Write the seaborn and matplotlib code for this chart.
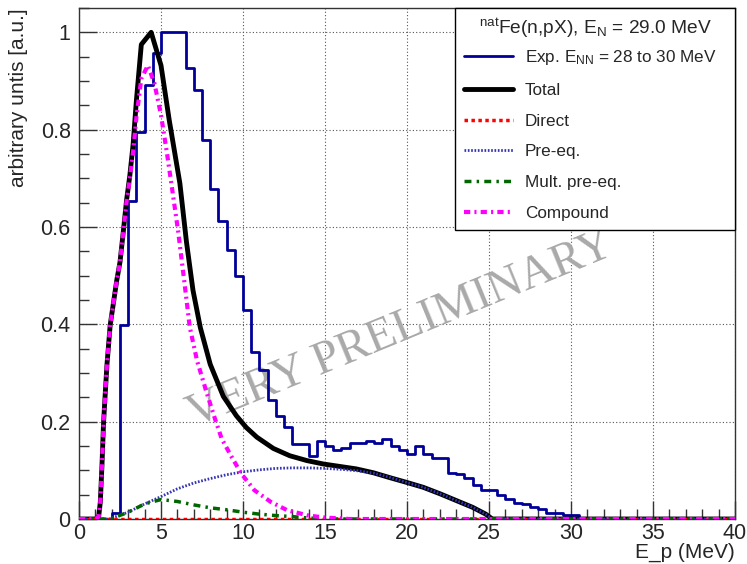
"""
natFe(n,pX) proton spectrum at E_N = 29 MeV: measured histogram vs. model components.
"""
import numpy as np
import seaborn as sns
import matplotlib.pyplot as plt
from matplotlib.ticker import MultipleLocator, FuncFormatter

# --- measured spectrum, 0.5 MeV bins, first bin starts at 2.0 MeV ---
EXP_FIRST_EDGE = 2.0
EXP_BIN_WIDTH = 0.5
exp_counts = [
    0.012, 0.399, 0.653, 0.795, 0.892, 0.958, 1.0, 1.0, 1.0, 0.927,
    0.881, 0.778, 0.678, 0.613, 0.552, 0.500, 0.429, 0.344, 0.307, 0.244,
    0.212, 0.189, 0.155, 0.155, 0.130, 0.160, 0.149, 0.142, 0.145, 0.157,
    0.157, 0.160, 0.156, 0.164, 0.149, 0.141, 0.134, 0.150, 0.134, 0.125,
    0.125, 0.094, 0.092, 0.084, 0.070, 0.060, 0.060, 0.049, 0.041, 0.033,
    0.031, 0.025, 0.020, 0.013, 0.012, 0.008, 0.008,
]

# --- model curves (energy in MeV, arbitrary units) ---
total_e = [0, 1.0, 1.2, 1.3, 1.4, 1.5, 1.7, 1.9, 2.3, 2.5, 2.7, 2.9, 3.1, 3.3, 3.5,
           3.8, 4.4, 5.0, 5.5, 6.15, 6.55, 6.95, 7.4, 8.0, 8.8, 9.6, 10.2, 10.85,
           11.85, 12.85, 13.9, 14.9, 15.9, 16.9, 17.95, 18.95, 20.0, 21.0, 22.0,
           23.0, 24.0, 24.8, 25.2, 40]
total_v = [0, 0, 0.005, 0.035, 0.11, 0.2, 0.315, 0.398, 0.49, 0.528, 0.59, 0.655,
           0.706, 0.77, 0.86, 0.975, 1.0, 0.932, 0.82, 0.69, 0.57, 0.47, 0.393,
           0.318, 0.252, 0.212, 0.188, 0.168, 0.145, 0.13, 0.12, 0.113, 0.108,
           0.103, 0.095, 0.085, 0.075, 0.065, 0.052, 0.038, 0.024, 0.01, 0, 0]

direct_e = [0, 40]
direct_v = [0, 0]

preeq_e = [0, 1.9, 2.0, 3.0, 4.0, 5.0, 6.0, 7.0, 8.0, 9.0, 10.0, 11.0, 12.0, 13.0,
           14.0, 15.0, 16.0, 17.0, 18.0, 19.0, 20.0, 21.0, 22.0, 23.0, 24.0, 24.8,
           25.2, 40]
preeq_v = [0, 0, 0.002, 0.014, 0.031, 0.046, 0.062, 0.074, 0.083, 0.091, 0.097,
           0.101, 0.104, 0.105, 0.105, 0.104, 0.102, 0.099, 0.094, 0.085, 0.075,
           0.065, 0.052, 0.038, 0.024, 0.01, 0, 0]

mult_e = [0, 1.9, 2.0, 3.0, 4.0, 5.0, 6.0, 7.0, 8.0, 9.0, 10.0, 11.0, 12.0, 13.0,
          14.0, 15.0, 40]
mult_v = [0, 0, 0.001, 0.014, 0.031, 0.040, 0.036, 0.029, 0.023, 0.019, 0.014,
          0.010, 0.007, 0.005, 0.002, 0, 0]

compound_e = [0, 1.0, 1.2, 1.3, 1.4, 1.5, 1.7, 1.9, 2.3, 2.5, 2.7, 2.9, 3.1, 3.3,
              3.5, 3.8, 4.2, 4.6, 5.0, 5.35, 5.65, 6.05, 6.45, 6.75, 7.2, 7.8, 8.3,
              8.7, 9.3, 9.9, 10.7, 11.7, 12.7, 14.0, 15.0, 16.5, 40]
compound_v = [0, 0, 0.005, 0.035, 0.11, 0.2, 0.315, 0.398, 0.49, 0.528, 0.59,
              0.652, 0.70, 0.755, 0.825, 0.905, 0.932, 0.895, 0.83, 0.755, 0.685,
              0.59, 0.48, 0.395, 0.325, 0.258, 0.205, 0.165, 0.128, 0.093, 0.059,
              0.035, 0.018, 0.007, 0.003, 0, 0]

LEGEND_TITLE = r'$^{\mathrm{nat}}$Fe(n,pX), E$_{\mathrm{N}}$ = 29.0 MeV'
LABELS = ['Exp. E$_{\\mathrm{NN}}$ = 28 to 30 MeV', 'Total', 'Direct', 'Pre-eq.',
          'Mult. pre-eq.', 'Compound']


def main():
    sns.set_style('ticks')
    plt.rcParams['font.family'] = ['Liberation Sans', 'DejaVu Sans']
    plt.rcParams['mathtext.fontset'] = 'custom'
    plt.rcParams['mathtext.rm'] = 'Liberation Sans'
    plt.rcParams['mathtext.it'] = 'Liberation Sans:italic'

    fig = plt.figure(figsize=(7.47, 5.64), dpi=100)
    ax = fig.add_axes([79 / 747, 1 - 519 / 564, 656 / 747, 511 / 564])

    # full 0-40 MeV histogram, empty outside the measured range
    edges = np.arange(0, 40 + EXP_BIN_WIDTH / 2, EXP_BIN_WIDTH)
    counts = np.zeros(len(edges) - 1)
    i0 = int(round(EXP_FIRST_EDGE / EXP_BIN_WIDTH))
    counts[i0:i0 + len(exp_counts)] = exp_counts
    step_y = np.append(counts, counts[-1])

    sns.lineplot(x=edges, y=step_y, drawstyle='steps-post', color='#000099',
                 linewidth=2, label=LABELS[0], estimator=None, ax=ax, zorder=3)
    sns.lineplot(x=total_e, y=total_v, color='black', linewidth=3.5,
                 label=LABELS[1], estimator=None, ax=ax, zorder=4)
    sns.lineplot(x=direct_e, y=direct_v, color='#ff0000', linewidth=2.5,
                 linestyle=(0, (1, 1)), label=LABELS[2], estimator=None, ax=ax, zorder=4)
    sns.lineplot(x=preeq_e, y=preeq_v, color='#3535b5', linewidth=2,
                 linestyle=(0, (0.6, 0.6)), label=LABELS[3], estimator=None, ax=ax, zorder=4)
    sns.lineplot(x=mult_e, y=mult_v, color='#006600', linewidth=2.5,
                 linestyle=(0, (2, 1.5, 0.7, 1.5)), label=LABELS[4], estimator=None, ax=ax, zorder=4)
    sns.lineplot(x=compound_e, y=compound_v, color='#ff00ff', linewidth=3,
                 linestyle=(0, (1.5, 1, 0.5, 1)), label=LABELS[5], estimator=None, ax=ax, zorder=5)

    ax.text(19.6, 0.39, 'VERY PRELIMINARY', family='Liberation Serif', fontsize=34,
            color='#a9a9a9', rotation=22.3, rotation_mode='anchor',
            ha='center', va='center', zorder=2)

    ax.set_xlim(0, 40)
    ax.set_ylim(0, 1.05)
    ax.xaxis.set_major_locator(MultipleLocator(5))
    ax.xaxis.set_minor_locator(MultipleLocator(1))
    ax.yaxis.set_major_locator(MultipleLocator(0.2))
    ax.yaxis.set_minor_locator(MultipleLocator(0.05))
    ax.yaxis.set_major_formatter(FuncFormatter(lambda v, p: f'{v:g}'))
    ax.tick_params(which='both', direction='in', top=False, right=False,
                   labelsize=15.5, width=1, color='#333333')
    ax.tick_params(which='major', length=13)
    ax.tick_params(axis='x', which='major', pad=3)
    ax.tick_params(axis='y', which='major', pad=6)
    ax.tick_params(which='minor', length=7)
    ax.grid(True, which='major', color='#555555', linestyle=(0, (1, 2)), linewidth=0.8)
    for s in ax.spines.values():
        s.set_color('#333333')
        s.set_linewidth(1)

    ax.set_xlabel('E_p (MeV)', fontsize=15, ha='right', va='top')
    ax.xaxis.set_label_coords(1.0, -0.047)
    ax.set_ylabel('arbitrary untis [a.u.]', fontsize=15, loc='top')
    ax.yaxis.set_label_coords(-0.078, 1.0)

    handles, labels = ax.get_legend_handles_labels()
    leg = ax.legend(handles, labels, title=LEGEND_TITLE, loc='upper right',
                    bbox_to_anchor=(376 / 656, 0, 280 / 656, 1), mode='expand',
                    borderaxespad=0, fancybox=False, framealpha=1,
                    edgecolor='black', fontsize=12.3, title_fontsize=13.8,
                    handlelength=2.9, handletextpad=0.7, labelspacing=0.93,
                    borderpad=0.5)
    leg._legend_box.sep = 5.5
    leg.get_frame().set_linewidth(1)
    leg.set_zorder(10)

    fig.savefig('out.png', dpi=100, facecolor='white')


if __name__ == '__main__':
    main()
